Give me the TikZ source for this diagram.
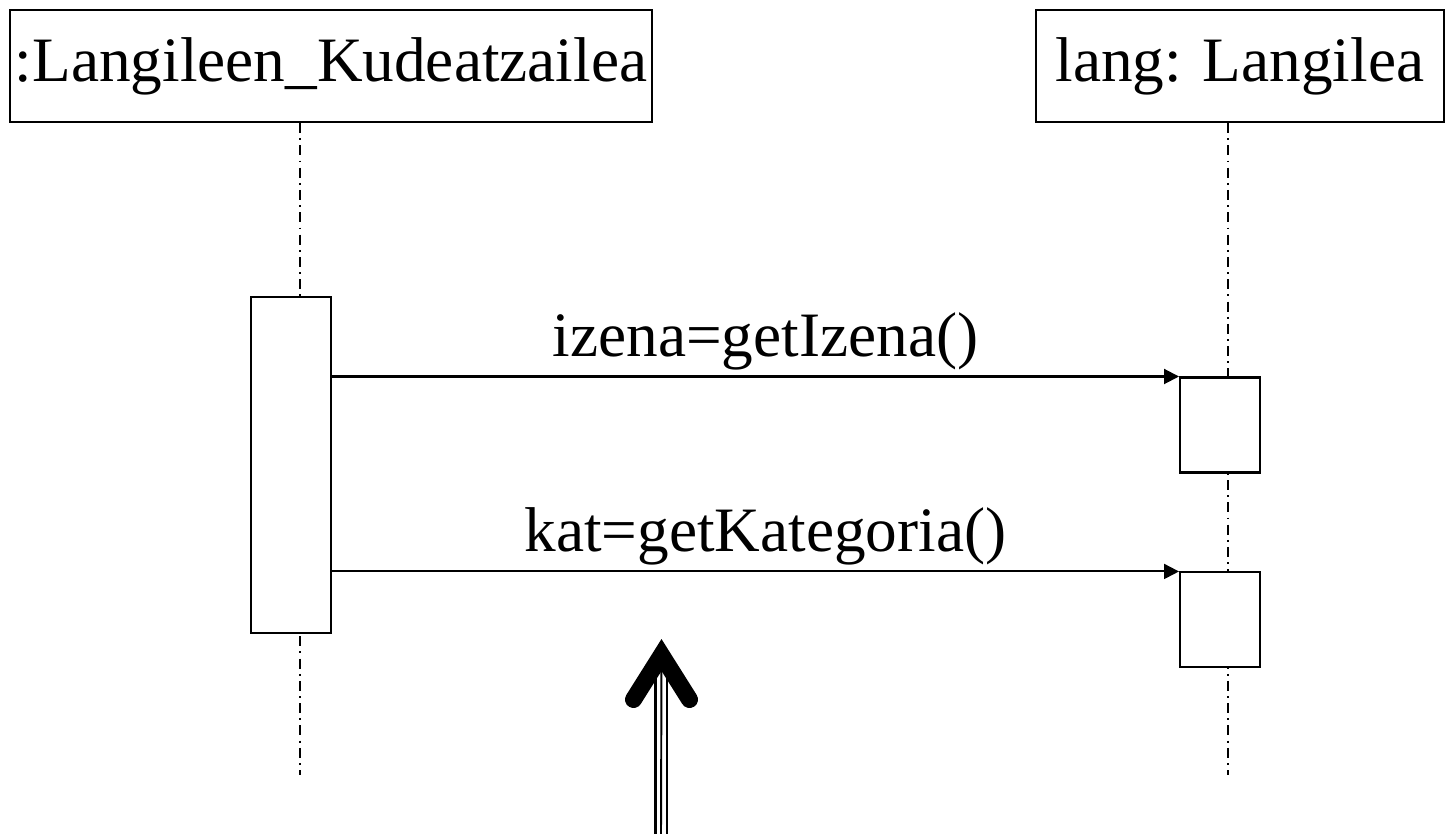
\documentclass[tikz,border=0pt]{standalone}
\usepackage{fontspec}
\setmainfont{Liberation Serif}
\usetikzlibrary{arrows.meta, positioning}
\tikzstyle{objbox} = [rectangle, draw, line width=1.15pt, inner sep=0pt,
minimum height=2.24cm, font=\fontsize{36}{40}\selectfont]
\tikzstyle{actbox} = [rectangle, draw, fill=white, line width=1.15pt, minimum width=1.6cm]
\tikzstyle{lifeline} = [draw, line width=1.1pt, dash pattern=on 5.7pt off 3pt on 1pt off 3pt]
\tikzstyle{msg} = [draw, line width=1.15pt, -{Triangle[length=0.3cm,width=0.3cm]}]
\tikzstyle{msglabel} = [anchor=base, font=\fontsize{36}{40}\selectfont, inner sep=0pt]

\begin{document}
\begin{tikzpicture}[x=0.02cm, y=-0.02cm]
    \useasboundingbox (0,0) rectangle (1454,834);
    \node [objbox, minimum width=12.84cm] (kud) at (331,66) {:Langileen\_Kudeatzailea};
    \node [objbox, minimum width=8.16cm, right of=kud, node distance=18.18cm] (lang) {lang: Langilea};
    \coordinate (kudend) at (300,775);
    \coordinate (langend) at (1228,775);
    \path [lifeline] (kud.south -| kudend) -- (kudend);
    \path [lifeline] (lang.south -| langend) -- (langend);
    \node [actbox, minimum height=6.72cm] (kudact) at (291,465) {};
    \node [actbox, minimum height=1.9cm] (izact) at (1220,425) {};
    \node [actbox, minimum height=1.9cm, below of=izact, node distance=3.9cm] (katact) {};
    \path [msg] (kudact.east |- izact.north west) -- node [msglabel, yshift=0.4cm, xshift=0.2cm] {izena=getIzena()} (izact.north west);
    \path [msg] (kudact.east |- katact.north west) -- node [msglabel, yshift=0.4cm, xshift=0.2cm] {kat=getKategoria()} (katact.north west);
    % big arrow below
    \coordinate (uptail) at (661,834);
    \coordinate (uptip) at (661.5,655);
    \coordinate (upleft) at (633.5,699.5);
    \coordinate (upright) at (689.5,699.5);
    \draw [line width=1.35pt] ([xshift=-0.11cm]uptail) -- ([xshift=-0.11cm]uptail |- 0,675);
    \draw [line width=1.35pt] ([xshift=0.12cm]uptail) -- ([xshift=0.12cm]uptail |- 0,675);
    \draw [line width=1.1pt] (uptail) -- (uptip);
    \draw [line width=0.34cm, line cap=round, line join=miter] (upleft) -- (uptip) -- (upright);
\end{tikzpicture}
\end{document}
